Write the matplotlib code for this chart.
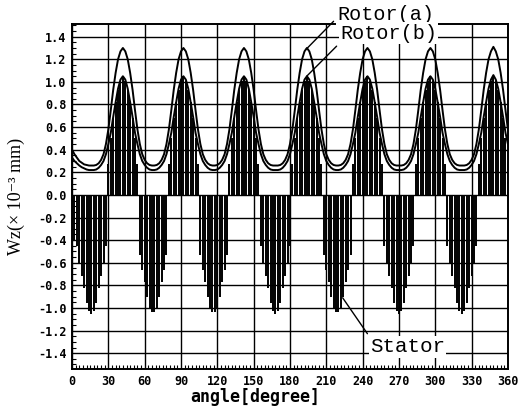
import matplotlib.pyplot as plt
import numpy as np
from matplotlib.ticker import MultipleLocator

# angle grid [degree], 2 degree steps, 0..360
ANGLE = np.arange(0, 361, 2)

# Rotor(a) displacement
ROTOR_A = [
    0.40, 0.36, 0.33, 0.30, 0.285, 0.27, 0.265, 0.26, 0.26, 0.26, 0.265, 0.28, 0.31, 0.36, 0.45, 0.58, 0.75, 0.93, 1.08, 1.20, 1.27, 1.30,
    1.27, 1.20, 1.08, 0.93, 0.75, 0.58, 0.45, 0.36, 0.31, 0.28, 0.265, 0.26, 0.26, 0.265, 0.28, 0.31, 0.36, 0.45, 0.58, 0.75, 0.93, 1.08, 1.20, 1.27, 1.30,
    1.27, 1.20, 1.08, 0.93, 0.75, 0.58, 0.45, 0.36, 0.31, 0.28, 0.265, 0.26, 0.26, 0.265, 0.28, 0.31, 0.36, 0.45, 0.58, 0.75, 0.93, 1.08, 1.20, 1.27, 1.30,
    1.27, 1.20, 1.08, 0.93, 0.75, 0.58, 0.45, 0.36, 0.31, 0.28, 0.265, 0.26, 0.26, 0.26, 0.265, 0.28, 0.31, 0.36, 0.45, 0.58, 0.75, 0.93, 1.08, 1.20, 1.27, 1.30,
    1.27, 1.20, 1.08, 0.93, 0.75, 0.58, 0.45, 0.36, 0.31, 0.28, 0.265, 0.26, 0.26, 0.265, 0.28, 0.31, 0.36, 0.45, 0.58, 0.75, 0.93, 1.08, 1.20, 1.27, 1.30,
    1.27, 1.20, 1.08, 0.93, 0.75, 0.58, 0.45, 0.36, 0.31, 0.28, 0.265, 0.26, 0.26, 0.26, 0.265, 0.28, 0.31, 0.36, 0.45, 0.58, 0.75, 0.93, 1.08, 1.20, 1.27, 1.30,
    1.27, 1.20, 1.08, 0.93, 0.75, 0.58, 0.45, 0.36, 0.31, 0.28, 0.265, 0.26, 0.26, 0.26, 0.265, 0.28, 0.31, 0.36, 0.45, 0.58, 0.75, 0.93, 1.08, 1.20, 1.27, 1.31,
    1.27, 1.20, 1.08, 0.93, 0.75, 0.58,
]

# Rotor(b)
ROTOR_B = [
    0.33, 0.30, 0.28, 0.26, 0.245, 0.235, 0.225, 0.22, 0.22, 0.22, 0.225, 0.24, 0.265, 0.30, 0.36, 0.45, 0.55, 0.69, 0.82, 0.94, 1.02, 1.05,
    1.02, 0.94, 0.82, 0.69, 0.55, 0.45, 0.36, 0.30, 0.265, 0.24, 0.225, 0.22, 0.22, 0.225, 0.24, 0.265, 0.30, 0.36, 0.45, 0.55, 0.69, 0.82, 0.94, 1.02, 1.05,
    1.02, 0.94, 0.82, 0.69, 0.55, 0.45, 0.36, 0.30, 0.265, 0.24, 0.225, 0.22, 0.22, 0.225, 0.24, 0.265, 0.30, 0.36, 0.45, 0.55, 0.69, 0.82, 0.94, 1.02, 1.05,
    1.02, 0.94, 0.82, 0.69, 0.55, 0.45, 0.36, 0.30, 0.265, 0.24, 0.225, 0.22, 0.22, 0.22, 0.225, 0.24, 0.265, 0.30, 0.36, 0.45, 0.55, 0.69, 0.82, 0.94, 1.02, 1.05,
    1.02, 0.94, 0.82, 0.69, 0.55, 0.45, 0.36, 0.30, 0.265, 0.24, 0.225, 0.22, 0.22, 0.225, 0.24, 0.265, 0.30, 0.36, 0.45, 0.55, 0.69, 0.82, 0.94, 1.02, 1.05,
    1.02, 0.94, 0.82, 0.69, 0.55, 0.45, 0.36, 0.30, 0.265, 0.24, 0.225, 0.22, 0.22, 0.22, 0.225, 0.24, 0.265, 0.30, 0.36, 0.45, 0.55, 0.69, 0.82, 0.94, 1.02, 1.05,
    1.02, 0.94, 0.82, 0.69, 0.55, 0.45, 0.36, 0.30, 0.265, 0.24, 0.225, 0.22, 0.22, 0.22, 0.225, 0.24, 0.265, 0.30, 0.36, 0.45, 0.55, 0.69, 0.82, 0.94, 1.02, 1.06,
    1.02, 0.94, 0.82, 0.69, 0.55, 0.45,
]

# Stator (drawn as vertical lines from zero)
STATOR = [
    -0.35, -0.40, -0.45, -0.60, -0.72, -0.82, -0.96, -1.03, -1.05, -1.03, -0.96, -0.82, -0.72, -0.60, -0.45, 0.27, 0.50, 0.68, 0.82, 0.93, 1.01, 1.05,
    1.01, 0.93, 0.82, 0.68, 0.50, 0.27, -0.53, -0.66, -0.77, -0.90, -1.00, -1.04, -1.04, -1.00, -0.90, -0.77, -0.66, -0.53, 0.27, 0.50, 0.68, 0.82, 0.93, 1.01, 1.05,
    1.01, 0.93, 0.82, 0.68, 0.50, 0.27, -0.53, -0.66, -0.77, -0.90, -1.00, -1.04, -1.04, -1.00, -0.90, -0.77, -0.66, -0.53, 0.27, 0.50, 0.68, 0.82, 0.93, 1.01, 1.05,
    1.01, 0.93, 0.82, 0.68, 0.50, 0.27, -0.45, -0.60, -0.72, -0.82, -0.96, -1.03, -1.05, -1.03, -0.96, -0.82, -0.72, -0.60, -0.45, 0.27, 0.50, 0.68, 0.82, 0.93, 1.01, 1.05,
    1.01, 0.93, 0.82, 0.68, 0.50, 0.27, -0.53, -0.66, -0.77, -0.90, -1.00, -1.04, -1.04, -1.00, -0.90, -0.77, -0.66, -0.53, 0.27, 0.50, 0.68, 0.82, 0.93, 1.01, 1.05,
    1.01, 0.93, 0.82, 0.68, 0.50, 0.27, -0.45, -0.60, -0.72, -0.82, -0.96, -1.03, -1.05, -1.03, -0.96, -0.82, -0.72, -0.60, -0.45, 0.27, 0.50, 0.68, 0.82, 0.93, 1.01, 1.05,
    1.01, 0.93, 0.82, 0.68, 0.50, 0.27, -0.45, -0.60, -0.72, -0.82, -0.96, -1.03, -1.05, -1.03, -0.96, -0.82, -0.72, -0.60, -0.45, 0.27, 0.50, 0.68, 0.82, 0.93, 1.01, 1.05,
    1.01, 0.93, 0.82, 0.68, 0.50, 0.27,
]

XTICKS = [0, 30, 60, 90, 120, 150, 180, 210, 240, 270, 300, 330, 360]
YTICKS = [-1.4, -1.2, -1.0, -0.8, -0.6, -0.4, -0.2, 0.0, 0.2, 0.4, 0.6, 0.8, 1.0, 1.2, 1.4]
YTICK_LABELS = ["-1.4", "-1.2", "-1.0", "-0.8", "-0.6", "-0.4", "-0.2", "0.0",
                "0.2", "0.4", "0.6", "0.8", "1.0", "1.2", "1.4"]

fig = plt.figure(figsize=(5.22, 4.08), dpi=100)
ax = fig.add_axes([0.138, 0.0956, 0.835, 0.845])

# stator: dense vertical lines
ax.vlines(ANGLE, 0, STATOR, color="black", lw=1.4, zorder=2)
# rotor curves
ax.plot(ANGLE, ROTOR_A, color="black", lw=1.4, zorder=3)
ax.plot(ANGLE, ROTOR_B, color="black", lw=1.4, zorder=3)

ax.set_xlim(0, 360)
ax.set_ylim(-1.54, 1.51)

mono = "DejaVu Sans Mono"
ax.set_xticks(XTICKS)
ax.set_xticklabels([str(t) for t in XTICKS], family=mono, fontweight="bold", fontsize=8.5)
ax.set_yticks(YTICKS)
ax.set_yticklabels(YTICK_LABELS, family=mono, fontweight="bold", fontsize=8.5)
ax.xaxis.set_minor_locator(MultipleLocator(3))
ax.yaxis.set_minor_locator(MultipleLocator(0.05))
ax.tick_params(which="major", length=0, pad=4)
ax.tick_params(which="minor", direction="in", length=3, width=0.8)

ax.grid(True, which="major", color="black", lw=1.0)
ax.set_axisbelow(True)
for s in ax.spines.values():
    s.set_linewidth(1.4)

# axis labels
ax.set_ylabel("Wz(× 10⁻³ mm)", family=["Liberation Serif", "DejaVu Serif"], fontsize=13)
ax.yaxis.set_label_coords(-0.108, 0.5)
fig.text(255 / 522, 1 - 397 / 408, "angle[degree]", family=mono, fontweight="bold",
         fontsize=12, ha="center", va="center")

# labels with leader lines
box = dict(facecolor="white", edgecolor="none", pad=1)
lab = dict(family="Liberation Mono", fontsize=14.5, va="center", ha="left", bbox=box,
           zorder=5, annotation_clip=False)
ax.annotate("Rotor(a)", xy=(193.5, 1.29), xytext=(218.8, 1.60),
            arrowprops=dict(arrowstyle="-", color="black", lw=1.0, shrinkA=2, shrinkB=0,
                            relpos=(0, 0.3)), **lab)
ax.annotate("Rotor(b)", xy=(193.8, 1.05), xytext=(221.3, 1.43),
            arrowprops=dict(arrowstyle="-", color="black", lw=1.0, shrinkA=2, shrinkB=0,
                            relpos=(0, 0.0)), **lab)
ax.annotate("Stator", xy=(223.5, -0.91), xytext=(246.1, -1.345),
            arrowprops=dict(arrowstyle="-", color="black", lw=1.0, shrinkA=2, shrinkB=0,
                            relpos=(0, 1.0)), **dict(lab, fontsize=15))

plt.savefig("out.png", dpi=100)
